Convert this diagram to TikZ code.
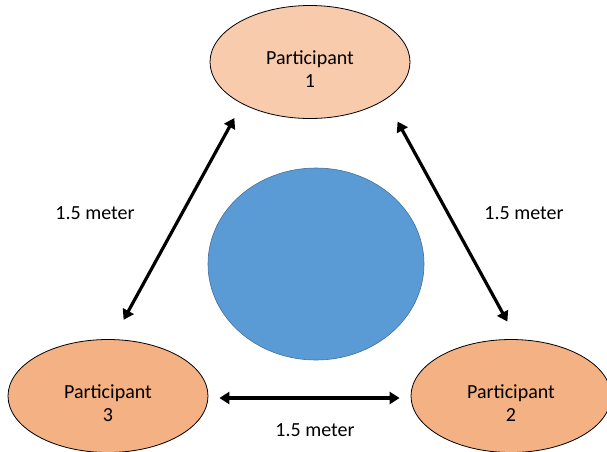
\documentclass[tikz,border=0pt]{standalone}
\usepackage{fontspec}
\setmainfont{Carlito}
\usetikzlibrary{shapes,arrows.meta,positioning,calc}
\usepackage{xcolor}
\definecolor{peachlight}{HTML}{F8CBAD}
\definecolor{peach}{HTML}{F4B183}
\definecolor{tableblue}{HTML}{5B9BD5}
\definecolor{tableedge}{HTML}{41719C}

\begin{document}
\begin{tikzpicture}[x=1pt, y=-1pt, font=\fontsize{20}{23}\selectfont,
    person/.style={draw, ellipse, line width=0.8pt, minimum width=200pt, minimum height=113pt, inner sep=0pt, align=center, text height=51pt},
    dist/.style={{Triangle[length=10pt,width=12pt]}-{Triangle[length=10pt,width=12pt]}, line width=3.2pt},
    lbl/.style={inner sep=0pt}]
    \useasboundingbox (0,0) rectangle (607,451);

    \node[draw=tableedge, fill=tableblue, ellipse, line width=0.6pt, minimum width=216pt, minimum height=192pt, inner sep=0pt] (table) at (316,264) {};

    \node[person, fill=peachlight] (p1) at (310,62) {Participant\\1};
    \node[person, fill=peach] (p2) at (511,396) {Participant\\2};
    \node[person, fill=peach] (p3) at (108,396) {Participant\\3};

    \draw[dist, shorten <=22pt, shorten >=18pt] ([xshift=5pt]p3.north) -- ([xshift=4pt]p1.south west);
    \draw[dist, shorten <=22pt, shorten >=20pt] ([xshift=6pt]p1.south east) -- ([xshift=6pt]p2.north);
    \draw[dist, shorten <=11pt, shorten >=11pt] ([yshift=-2pt]p3.east) -- ([yshift=-2pt]p2.west);

    \node[lbl] (d13) at (95,213) {1.5 meter};
    \node[lbl] (d12) at (524,213) {1.5 meter};
    \node[lbl] (d23) at (315,430) {1.5 meter};
\end{tikzpicture}
\end{document}
